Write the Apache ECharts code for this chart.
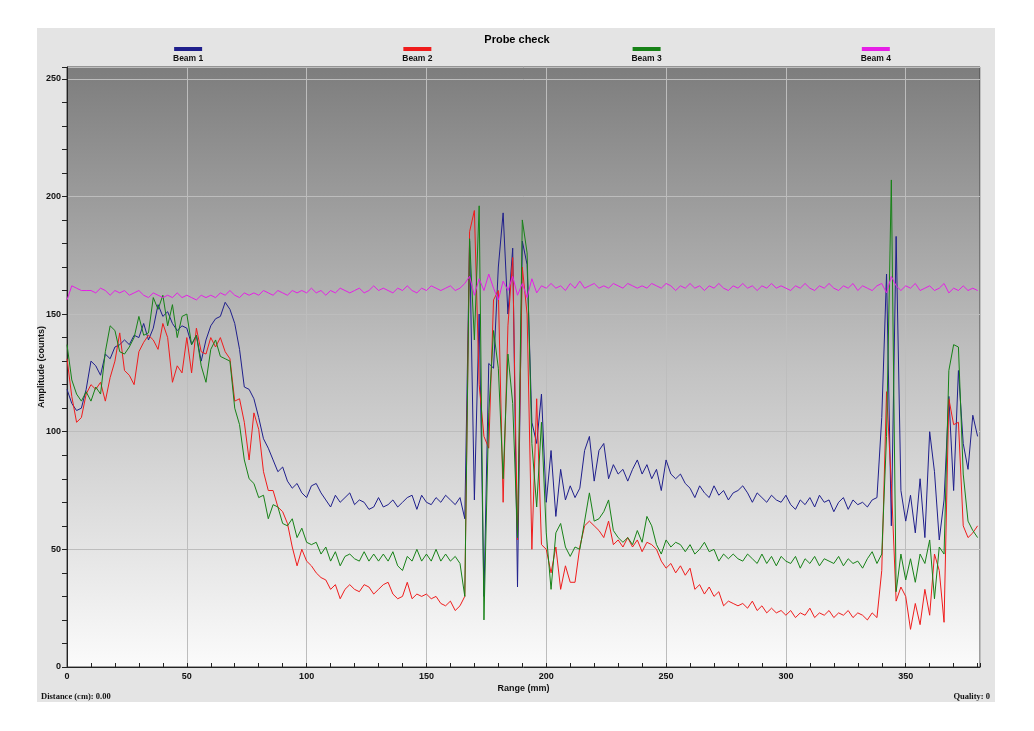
<!DOCTYPE html>
<html>
<head>
<meta charset="utf-8">
<title>Probe check</title>
<script src="https://cdn.jsdelivr.net/npm/echarts@6/dist/echarts.min.js"></script>
<style>
  html, body { margin: 0; padding: 0; background: #ffffff; }
  #container { width: 1034px; height: 731px; }
</style>
</head>
<body>
<div id="container"></div>
<script>
// Amplitude per beam, one sample every 2 mm from 0 to 380 mm
var stepMm = 2;

var beam1 = [
  118,112,109,110,118,130,128,124,133,131,
  136,137,139,137,141,140,146,139,144,154,
  149,151,146,143,145,144,137,141,130,139,
  145,148,149,155,152,146,135,119,118,114,
  106,97,93,88,83,85,79,76,78,74,
  72,77,78,74,71,68,73,70,72,74,
  69,71,70,67,68,72,68,69,71,68,
  70,72,73,67,73,70,69,72,70,73,
  71,69,72,63,181,71,150,30,129,127,
  170,193,150,178,34,181,171,104,95,116,
  70,92,64,84,71,77,72,76,92,98,
  79,92,95,80,86,82,84,79,84,88,
  82,86,80,84,75,88,82,80,82,78,
  76,72,77,74,72,77,73,75,71,74,
  75,77,74,70,74,72,70,73,71,70,
  73,69,67,71,69,72,68,73,70,71,
  66,70,72,67,71,69,70,68,71,72,
  106,167,60,183,75,62,73,57,80,55,
  100,83,54,71,115,75,126,95,84,107,
  98
];

var beam2 = [
  131,115,104,106,116,120,118,121,113,123,
  130,142,126,124,120,134,138,141,139,135,
  146,140,121,128,125,140,125,144,134,133,
  140,136,140,134,131,113,114,104,88,108,
  101,83,75,75,68,66,61,51,43,50,
  45,43,40,38,37,33,35,29,33,35,
  33,32,35,34,31,33,35,36,31,29,
  30,36,29,31,30,31,29,30,27,26,
  28,24,26,30,185,194,120,98,93,156,
  160,70,145,174,54,170,150,50,114,52,
  50,40,51,33,43,36,36,51,60,62,
  60,58,55,62,52,54,51,55,51,54,
  49,53,52,50,45,42,44,40,43,39,
  42,33,35,31,34,30,32,26,28,27,
  26,27,25,28,24,26,23,25,23,24,
  22,24,21,23,22,25,21,23,22,24,
  21,23,22,24,21,23,22,20,23,21,
  41,117,78,28,34,30,16,27,18,33,
  22,48,41,19,114,103,104,60,55,57,
  60
];

var beam3 = [
  137,122,116,113,117,113,119,116,134,145,
  143,134,133,136,140,149,141,142,157,152,
  158,145,154,140,149,150,137,141,128,121,
  135,139,132,131,130,110,103,88,80,78,
  72,73,63,69,68,61,60,63,55,59,
  53,52,53,48,51,45,49,43,47,48,
  46,45,49,45,48,45,48,45,49,43,
  41,47,45,50,45,48,45,50,45,48,
  45,47,44,30,182,139,196,20,108,143,
  127,80,133,112,55,190,176,95,68,104,
  57,33,57,61,51,47,51,50,62,74,
  62,63,66,71,58,55,53,55,52,58,
  53,64,60,52,48,54,51,53,52,49,
  52,48,50,53,49,50,45,48,46,48,
  46,45,48,46,44,48,44,47,43,47,
  45,44,47,42,46,44,47,43,46,45,
  44,47,43,46,44,45,42,46,49,44,
  48,98,207,32,48,37,46,36,48,44,
  54,29,51,48,126,137,136,82,62,58,
  55
];

var beam4 = [
  156,162,161,160,160,160,159,161,160,158,
  160,159,160,158,159,160,158,157,159,158,
  157,158,157,159,157,158,157,156,158,157,
  158,157,159,158,160,158,157,159,158,159,
  158,160,159,158,160,159,158,160,159,160,
  159,161,159,160,158,160,159,161,160,159,
  160,161,159,160,162,160,161,160,159,161,
  160,162,160,159,161,160,162,161,160,161,
  162,160,161,163,166,158,165,160,167,161,
  156,164,160,166,158,163,157,165,159,162,
  161,163,161,162,160,163,161,164,161,162,
  163,161,162,161,163,162,161,163,162,161,
  162,161,163,162,161,163,162,160,162,161,
  163,161,162,160,162,161,163,161,160,162,
  161,163,161,162,160,162,161,163,161,162,
  161,160,162,161,163,161,160,162,161,163,
  161,160,162,161,163,160,162,161,160,162,
  163,159,166,162,160,162,161,163,160,161,
  162,160,161,163,159,161,160,162,160,161,
  160
];

var beamNames = ['Beam 1', 'Beam 2', 'Beam 3', 'Beam 4'];
var beamColors = ['#1f1f8c', '#f01c1c', '#178217', '#e61ee6'];
var beamData = [beam1, beam2, beam3, beam4];

function toPairs(values) {
  return values.map(function (v, i) { return [i * stepMm, v]; });
}

var dom = document.getElementById('container');
var myChart = echarts.init(dom, null, { renderer: 'canvas' });

var sansFont = '"Liberation Sans", Arial, sans-serif';
var serifFont = '"Liberation Serif", "Times New Roman", serif';

// rich styles for the legend: colour bar on top, name under it
var legendRich = {
  t: { fontFamily: sansFont, fontWeight: 'bold', fontSize: 8.5, color: '#111', align: 'center', lineHeight: 12 }
};
beamNames.forEach(function (n, i) {
  legendRich['b' + (i + 1)] = { width: 28, height: 4, backgroundColor: beamColors[i], align: 'center', lineHeight: 8 };
});

var option = {
  animation: false,
  backgroundColor: '#ffffff',
  title: {
    text: 'Probe check',
    left: 'center',
    top: 29,
    textStyle: { fontFamily: sansFont, fontWeight: 'bold', fontSize: 11, color: '#000' }
  },
  legend: {
    data: beamNames,
    top: 38,
    left: 162,
    itemWidth: 0,
    itemHeight: 0,
    itemGap: 193,
    formatter: function (name) {
      var k = beamNames.indexOf(name) + 1;
      return '{b' + k + '|}\n{t|' + name + '}';
    },
    textStyle: { rich: legendRich }
  },
  graphic: [
    {
      type: 'rect',
      z: -10,
      shape: { x: 37, y: 28, width: 958, height: 674 },
      style: { fill: '#e4e4e4' }
    },
    {
      type: 'text',
      left: 41,
      top: 692,
      style: { text: 'Distance (cm): 0.00', font: 'bold 8.5px ' + serifFont, fill: '#111' }
    },
    {
      type: 'text',
      right: 44,
      top: 692,
      style: { text: 'Quality: 0', font: 'bold 8.5px ' + serifFont, fill: '#111' }
    }
  ],
  grid: {
    left: 67,
    right: 54,
    top: 67,
    bottom: 64,
    show: true,
    borderColor: '#444',
    borderWidth: 1,
    backgroundColor: {
      type: 'linear', x: 0, y: 0, x2: 0, y2: 1,
      colorStops: [
        { offset: 0, color: '#7d7d7d' },
        { offset: 0.5, color: '#c2c2c2' },
        { offset: 1, color: '#fbfbfb' }
      ]
    }
  },
  xAxis: {
    type: 'value',
    min: 0,
    max: 381,
    interval: 50,
    name: 'Range (mm)',
    nameLocation: 'middle',
    nameGap: 17,
    nameMoveOverlap: false,
    nameTextStyle: { fontFamily: sansFont, fontWeight: 'bold', fontSize: 9, color: '#111' },
    axisLine: { show: true, onZero: false, lineStyle: { color: '#222', width: 1 } },
    axisTick: { show: true, inside: true, length: 4, lineStyle: { color: '#222' } },
    minorTick: { show: true, splitNumber: 5, length: 4, lineStyle: { color: '#222' } },
    axisLabel: {
      showMaxLabel: false,
      margin: 5,
      fontFamily: sansFont, fontWeight: 'bold', fontSize: 9, color: '#111'
    },
    splitLine: { show: true, lineStyle: { color: '#bdbdbd', width: 1 } }
  },
  yAxis: {
    type: 'value',
    min: 0,
    max: 255,
    interval: 50,
    name: 'Amplitude (counts)',
    nameLocation: 'middle',
    nameRotate: 90,
    nameGap: 21,
    nameMoveOverlap: false,
    nameTextStyle: { fontFamily: sansFont, fontWeight: 'bold', fontSize: 9, color: '#111' },
    axisLine: { show: true, onZero: false, lineStyle: { color: '#222', width: 1 } },
    axisTick: { show: true, inside: false, length: 5, lineStyle: { color: '#222' } },
    minorTick: { show: true, splitNumber: 5, length: 5, lineStyle: { color: '#222' } },
    axisLabel: {
      showMaxLabel: false,
      margin: 6,
      fontFamily: sansFont, fontWeight: 'bold', fontSize: 9, color: '#111'
    },
    splitLine: { show: true, lineStyle: { color: '#bdbdbd', width: 1 } }
  },
  series: beamNames.map(function (name, i) {
    return {
      name: name,
      type: 'line',
      showSymbol: false,
      symbol: 'none',
      data: toPairs(beamData[i]),
      lineStyle: { color: beamColors[i], width: 1 },
      itemStyle: { color: beamColors[i] }
    };
  })
};

myChart.setOption(option);

window.addEventListener('resize', function () {
  myChart.resize();
});
</script>
</body>
</html>
